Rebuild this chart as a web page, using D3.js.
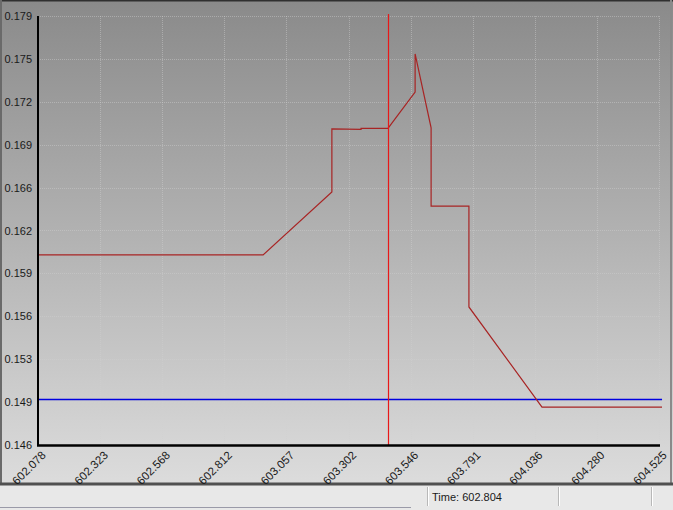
<!DOCTYPE html>
<html><head><meta charset="utf-8">
<script src="https://cdn.jsdelivr.net/npm/d3@7"></script>
<style>html,body{margin:0;padding:0;background:#e6e6e6;overflow:hidden}</style>
</head><body><svg id="c" width="673" height="510"></svg>
<script>
// ---- data ----
const xTickValues = [602.078, 602.323, 602.568, 602.812, 603.057, 603.302, 603.546, 603.791, 604.036, 604.280, 604.525];
const xTickLabels = ["602.078","602.323","602.568","602.812","603.057","603.302","603.546","603.791","604.036","604.280","604.525"];
const yTickValues = [0.146, 0.1493, 0.1526, 0.1559, 0.1592, 0.1625, 0.1658, 0.1691, 0.1724, 0.1757, 0.179];
const yTickLabels = ["0.146","0.149","0.153","0.156","0.159","0.162","0.166","0.169","0.172","0.175","0.179"];
const seriesTime  = [602.078, 602.965, 603.236, 603.236, 603.351, 603.351, 603.457, 603.564, 603.564, 603.627, 603.627, 603.776, 603.776, 604.064, 604.537];
const seriesValue = [0.16062, 0.16062, 0.16546, 0.17031, 0.17028, 0.17036, 0.17036, 0.17315, 0.17608, 0.17040, 0.16438, 0.16438, 0.15662, 0.14892, 0.14892];
const thresholdValue = 0.1495;
const cursorTime = 603.457;
const statusText = "Time: 602.804";

// ---- chart ----
const svg = d3.select("#c");
const defs = svg.append("defs");
const g1 = defs.append("linearGradient").attr("id","bg").attr("x1",0).attr("y1",0).attr("x2",0).attr("y2",1);
g1.append("stop").attr("offset","0%").attr("stop-color","#8a8a8a");
g1.append("stop").attr("offset","100%").attr("stop-color","#dcdcdc");

// panel
svg.append("rect").attr("x",0).attr("y",0).attr("width",673).attr("height",484).attr("fill","url(#bg)");
svg.append("line").attr("x1",0).attr("x2",673).attr("y1",0.5).attr("y2",0.5).attr("stroke","#303030").attr("stroke-width",2);
svg.append("line").attr("x1",1).attr("x2",1).attr("y1",0).attr("y2",484).attr("stroke","#6a6a6a").attr("stroke-width",2);
svg.append("line").attr("x1",671).attr("x2",671).attr("y1",0).attr("y2",484).attr("stroke","#8a8a8a").attr("stroke-width",2);
svg.append("line").attr("x1",0).attr("x2",673).attr("y1",484).attr("y2",484).attr("stroke","#505050").attr("stroke-width",3);

const x = d3.scaleLinear().domain([602.078, 604.525]).range([38, 659]);
const y = d3.scaleLinear().domain([0.146, 0.179]).range([445, 16]);

// grid
const grid = svg.append("g");
grid.selectAll("line.v").data(xTickValues).join("line")
  .attr("x1",d=>Math.round(x(d))+0.5).attr("x2",d=>Math.round(x(d))+0.5)
  .attr("y1",16).attr("y2",445)
  .attr("stroke","#d0d0d0").attr("stroke-opacity",0.45).attr("stroke-dasharray","1,1");
grid.selectAll("line.h").data(yTickValues).join("line")
  .attr("x1",38).attr("x2",659)
  .attr("y1",d=>Math.round(y(d))+0.5).attr("y2",d=>Math.round(y(d))+0.5)
  .attr("stroke","#d0d0d0").attr("stroke-opacity",0.45).attr("stroke-dasharray","1,1");

// threshold
svg.append("line").attr("x1",38).attr("x2",x(604.537)).attr("y1",Math.round(y(thresholdValue))+0.5).attr("y2",Math.round(y(thresholdValue))+0.5)
  .attr("stroke","#0000e0").attr("stroke-width",1.3);

// series
const line = d3.line().x((d,i)=>x(seriesTime[i])).y((d,i)=>y(seriesValue[i]));
svg.append("path").datum(seriesValue).attr("d",line).attr("fill","none")
  .attr("stroke","#a82424").attr("stroke-width",1.2);

// cursor
svg.append("line").attr("x1",Math.round(x(cursorTime))+0.5).attr("x2",Math.round(x(cursorTime))+0.5).attr("y1",14).attr("y2",445)
  .attr("stroke","#e81818").attr("stroke-width",1.2);

// axes
const yAxis = d3.axisLeft(y).tickValues(yTickValues).tickFormat((d,i)=>yTickLabels[i]).tickSize(0).tickPadding(6);
const ya = svg.append("g").attr("transform","translate(38,0)").call(yAxis);
ya.select(".domain").remove();
ya.selectAll("text").attr("font-family","Liberation Sans, Arial, sans-serif").attr("font-size",11).attr("fill","#1a1a1a");
const xAxis = d3.axisBottom(x).tickValues(xTickValues).tickFormat((d,i)=>xTickLabels[i]).tickSize(0);
const xa = svg.append("g").attr("transform","translate(0,445)").call(xAxis);
xa.select(".domain").remove();
xa.selectAll("text").attr("font-family","Liberation Sans, Arial, sans-serif").attr("font-size",11.5).attr("fill","#1a1a1a")
  .attr("text-anchor","end").attr("dy",0).attr("y",0)
  .attr("transform","translate(8,11) rotate(-45)");

svg.append("line").attr("x1",38).attr("x2",38).attr("y1",16).attr("y2",446).attr("stroke","#000").attr("stroke-width",2);
svg.append("line").attr("x1",37).attr("x2",660).attr("y1",445.5).attr("y2",445.5).attr("stroke","#000").attr("stroke-width",2.5);

// status bar
const sb = svg.append("g");
sb.append("rect").attr("x",0).attr("y",486).attr("width",673).attr("height",24).attr("fill","#e8e8e8");
[427, 558, 651].forEach(sx=>{
  sb.append("line").attr("x1",sx+0.5).attr("x2",sx+0.5).attr("y1",487).attr("y2",506).attr("stroke","#b8b8b8");
  sb.append("line").attr("x1",sx+1.5).attr("x2",sx+1.5).attr("y1",487).attr("y2",506).attr("stroke","#ffffff");
});
sb.append("line").attr("x1",0).attr("x2",411).attr("y1",507.5).attr("y2",507.5).attr("stroke","#9a9aa8");
sb.append("text").attr("x",432).attr("y",501).attr("font-family","Liberation Sans, Arial, sans-serif")
  .attr("font-size",11).attr("fill","#1a1a1a").text(statusText);
</script></body></html>
